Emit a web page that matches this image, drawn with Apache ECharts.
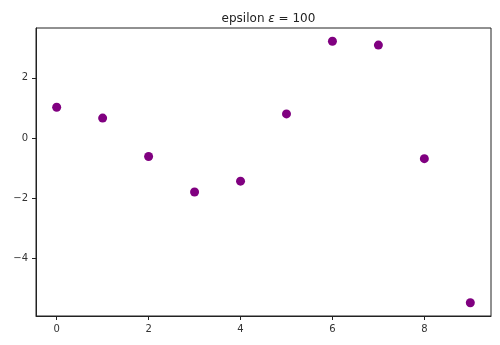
<!DOCTYPE html>
<html>
<head>
<meta charset="utf-8">
<script src="https://cdn.jsdelivr.net/npm/echarts@6/dist/echarts.min.js"></script>
<style>html,body{margin:0;padding:0;background:#fff;}#c{width:500px;height:345px;}</style>
</head>
<body>
<div id="c"></div>
<script>
const xValues = [0, 1, 2, 3, 4, 5, 6, 7, 8, 9];
const yValues = [1.02, 0.66, -0.62, -1.80, -1.44, 0.80, 3.22, 3.09, -0.69, -5.49];
const xTicks = [0, 2, 4, 6, 8];
const yTicks = [-4, -2, 0, 2];
const titleText = 'epsilon';
const titleValue = '100';

const chart = echarts.init(document.getElementById('c'), null, {renderer: 'canvas'});
const fmt = v => String(v).replace('-', '\u2212');
const fontFam = '"DejaVu Sans", sans-serif';
chart.setOption({
  animation: false,
  backgroundColor: '#fff',
  title: {
    text: '{a|' + titleText + ' }{e|\u03b5}{a| = ' + titleValue + '}',
    left: 263.5, top: 8, textAlign: 'center',
    textStyle: {
      fontWeight: 'normal',
      rich: {
        a: {fontFamily: fontFam, fontSize: 12, color: '#222', fontWeight: 'normal'},
        e: {fontFamily: fontFam, fontSize: 12, color: '#222', fontStyle: 'italic', fontWeight: 'normal'}
      }
    }
  },
  grid: {left: 36, right: 9, top: 28, bottom: 29, show: true, borderColor: '#222', borderWidth: 1},
  xAxis: {
    type: 'value', min: -0.45, max: 9.45,
    splitLine: {show: false},
    axisLine: {onZero: false, lineStyle: {color: '#222'}},
    axisTick: {show: true, length: 4, customValues: xTicks, lineStyle: {color: '#222'}},
    axisLabel: {customValues: xTicks, formatter: fmt, margin: 8, color: '#333', fontSize: 10, fontFamily: fontFam}
  },
  yAxis: {
    type: 'value', min: -5.93, max: 3.66,
    splitLine: {show: false},
    axisLine: {show: true, onZero: false, lineStyle: {color: '#222'}},
    axisTick: {show: true, length: 4, customValues: yTicks, lineStyle: {color: '#222'}},
    axisLabel: {customValues: yTicks, formatter: fmt, margin: 8, color: '#333', fontSize: 10, fontFamily: fontFam}
  },
  series: [{
    type: 'scatter',
    symbolSize: 9,
    itemStyle: {color: '#800080', opacity: 1},
    data: xValues.map((x, i) => [x, yValues[i]])
  }]
});
</script>
</body>
</html>
